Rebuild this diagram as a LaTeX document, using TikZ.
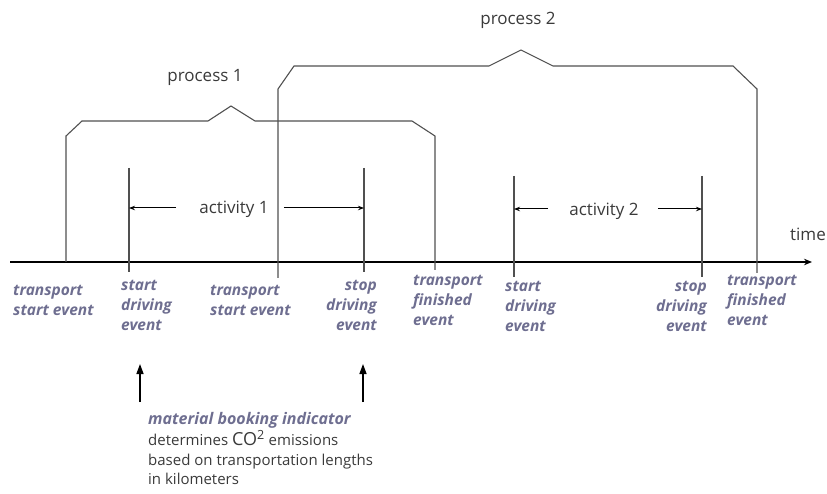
\documentclass[tikz,border=0pt]{standalone}
\usepackage{fontspec}
\setmainfont{Open Sans}
\usetikzlibrary{arrows.meta}
\definecolor{lblc}{HTML}{6E6E90}
\definecolor{linec}{HTML}{505050}
\definecolor{txtc}{HTML}{3A3A3A}
\tikzset{
  brk/.style={draw=linec, line width=1.1pt, line join=miter},
  tick/.style={draw=linec, line width=1.1pt},
  evlbl/.style={font=\fontsize{15.5}{20}\selectfont\bfseries\itshape, text=lblc, inner sep=0pt, align=left},
  evlblr/.style={evlbl, align=right},
  big/.style={font=\fontsize{17}{18}\selectfont, text=txtc, inner sep=1pt},
  actarr/.style={draw=black, line width=1pt, -{Stealth[length=6pt,width=4.5pt]}},
  uparr/.style={draw=black, line width=1.4pt, -{Triangle[length=10pt,width=7pt]}}
}
\begin{document}
\begin{tikzpicture}[x=1pt,y=-1pt]
\useasboundingbox (0,0) rectangle (827,494);
% timeline
\coordinate (t0) at (10,262);
\coordinate (t1) at (812,262);
\draw[line width=1.9pt, -{Stealth[length=8pt,width=6.5pt]}] (t0) -- (t1);
\node[big, anchor=base] (time) at (808,241) {time};
% process 1
\coordinate (p1a) at (66,262);
\coordinate (p1b) at (66,136);
\coordinate (p1c) at (82,121);
\coordinate (p1d) at (208,121);
\coordinate (p1e) at (231,106);
\coordinate (p1f) at (255,121);
\coordinate (p1g) at (412,121);
\coordinate (p1h) at (435,136);
\coordinate (p1i) at (435,270);
\draw[brk] (p1a) -- (p1b) -- (p1c) -- (p1d) -- (p1e) -- (p1f) -- (p1g) -- (p1h) -- (p1i);
\node[big, anchor=base] (proc1) at (205,82) {process 1};
% process 2
\coordinate (p2a) at (278,278);
\coordinate (p2b) at (278,89);
\coordinate (p2c) at (294,66);
\coordinate (p2d) at (489,66);
\coordinate (p2e) at (521,50);
\coordinate (p2f) at (553,66);
\coordinate (p2g) at (733,66);
\coordinate (p2h) at (757,89);
\coordinate (p2i) at (757,273);
\draw[brk] (p2a) -- (p2b) -- (p2c) -- (p2d) -- (p2e) -- (p2f) -- (p2g) -- (p2h) -- (p2i);
\node[big, anchor=base] (proc2) at (518,25) {process 2};
% activity 1
\coordinate (a1l0) at (129,168); \coordinate (a1l1) at (129,272);
\coordinate (a1r0) at (364,168); \coordinate (a1r1) at (364,272);
\draw[tick] (a1l0) -- (a1l1);
\draw[tick] (a1r0) -- (a1r1);
\node[big, anchor=base] (act1) at (234,214) {activity 1};
\coordinate (a1lm) at (129,208); \coordinate (a1rm) at (364,208);
\draw[actarr] (act1.west |- a1lm) ++(-22pt,0) -- (a1lm);
\draw[actarr] (act1.east |- a1rm) ++(14pt,0) -- (a1rm);
% activity 2
\coordinate (a2l0) at (514,176); \coordinate (a2l1) at (514,277);
\coordinate (a2r0) at (702,176); \coordinate (a2r1) at (702,277);
\draw[tick] (a2l0) -- (a2l1);
\draw[tick] (a2r0) -- (a2r1);
\node[big, anchor=base] (act2) at (604,216) {activity 2};
\coordinate (a2lm) at (514,209); \coordinate (a2rm) at (702,209);
\draw[actarr] (act2.west |- a2lm) ++(-20pt,0) -- (a2lm);
\draw[actarr] (act2.east |- a2rm) ++(18pt,0) -- (a2rm);
% event labels
\node[evlbl, anchor=north west] (e1) at (13,285) {transport\\start event};
\node[evlbl, anchor=north west] (e2) at (121,280) {start\\driving\\event};
\node[evlbl, anchor=north west] (e3) at (210,285) {transport\\start event};
\node[evlblr, anchor=north east] (e4) at (377,280) {stop\\driving\\event};
\node[evlbl, anchor=north west] (e5) at (413,275) {transport\\finished\\event};
\node[evlbl, anchor=north west] (e6) at (505,281) {start\\driving\\event};
\node[evlblr, anchor=north east] (e7) at (707,281) {stop\\driving\\event};
\node[evlbl, anchor=north west] (e8) at (727,275) {transport\\finished\\event};
% up arrows
\coordinate (u1a) at (140,402); \coordinate (u1b) at (140,364);
\coordinate (u2a) at (363,402); \coordinate (u2b) at (363,364);
\draw[uparr] (u1a) -- (u1b);
\draw[uparr] (u2a) -- (u2b);
% indicator text
\node[evlbl, anchor=base west, font=\fontsize{16}{18}\selectfont\bfseries\itshape] (mbi) at (148,424) {material booking indicator};
\node[anchor=north west, inner sep=0pt, align=left, text=txtc, font=\fontsize{15}{19.5}\selectfont] (desc) at (148,430)
  {determines {\fontsize{18}{18}\selectfont CO\textsuperscript{2}} emissions\\based on transportation lengths\\in kilometers};
\end{tikzpicture}
\end{document}
